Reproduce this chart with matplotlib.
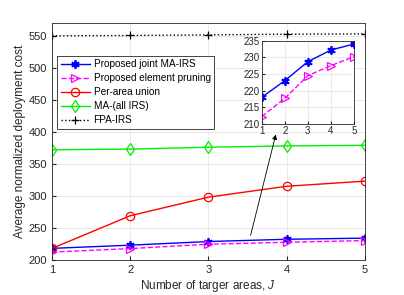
import matplotlib
import matplotlib.pyplot as plt
import numpy as np

matplotlib.use("Agg")

plt.rcParams["font.family"] = ["Liberation Sans", "DejaVu Sans"]
plt.rcParams["mathtext.fontset"] = "custom"
plt.rcParams["mathtext.it"] = "Liberation Sans:italic"

# Donnees
areas = [1, 2, 3, 4, 5]
joint_ma = [218.0, 223.0, 228.7, 232.2, 234.0]
elem_pruning = [212.2, 217.7, 224.5, 227.5, 230.2]
per_area = [218.0, 269.0, 298.0, 315.0, 323.0]
ma_all = [372.0, 373.0, 376.0, 378.0, 379.0]
fpa = [550.0, 550.5, 551.5, 552.5, 553.0]

series = [
    ("Proposed joint MA-IRS", joint_ma, dict(color="blue", ls="-", marker=(6, 2, 0), mew=1.3)),
    ("Proposed element pruning", elem_pruning, dict(color="magenta", ls="--", marker=">", mfc="none", mew=0.9)),
    ("Per-area union", per_area, dict(color="red", ls="-", marker="o", mfc="none", mew=0.9)),
    ("MA-(all IRS)", ma_all, dict(color="#00ee00", ls="-", marker="d", mfc="none", mew=0.9)),
    ("FPA-IRS", fpa, dict(color="black", ls=":", marker="+", mew=0.9)),
]

grid_col = "#e6e6e6"
axis_col = "#262626"

fig = plt.figure(figsize=(4.04, 2.95), dpi=100)
ax = fig.add_axes([0.129, 0.119, 0.774, 0.803])

for label, values, style in series:
    ax.plot(areas, values, label=label, lw=1.0, ms=6, **style)

ax.set_xlim(1, 5)
ax.set_ylim(200, 570)
ax.set_xticks(areas)
ax.set_yticks(np.arange(200, 551, 50))
ax.grid(True, color=grid_col, lw=0.6)
ax.tick_params(direction="in", labelsize=8, colors=axis_col, length=3)
for sp in ax.spines.values():
    sp.set_color(axis_col)
    sp.set_linewidth(0.6)
ax.set_xlabel("Number of targer areas, $J$", fontsize=8.5, color=axis_col, labelpad=2)
ax.set_ylabel("Average normalized deployment cost", fontsize=8.5, color=axis_col, labelpad=2)

leg = ax.legend(loc="upper left", bbox_to_anchor=(0.0, 0.882), fontsize=7.2,
                handlelength=2.9, borderpad=0.35, labelspacing=0.4,
                handletextpad=0.4, fancybox=False, framealpha=1)
leg.get_frame().set_edgecolor(axis_col)
leg.get_frame().set_linewidth(0.6)

# Fleche vers l'encart
ax.annotate("", xy=(3.87, 400), xytext=(3.53, 234),
            arrowprops=dict(arrowstyle="-|>", color="black", lw=0.6, mutation_scale=7))

# Encart zoom
axin = fig.add_axes([0.648, 0.58, 0.228, 0.282])
for label, values, style in series[:2]:
    axin.plot(areas, values, lw=1.0, ms=6, **style)
axin.set_xlim(1, 5)
axin.set_ylim(210, 235)
axin.set_xticks(areas)
axin.set_yticks(np.arange(210, 236, 5))
axin.grid(True, color=grid_col, lw=0.6)
axin.tick_params(direction="in", labelsize=7, colors=axis_col, length=2, pad=1.5)
for sp in axin.spines.values():
    sp.set_color(axis_col)
    sp.set_linewidth(0.6)

fig.savefig("out.png", dpi=100)
plt.close(fig)
